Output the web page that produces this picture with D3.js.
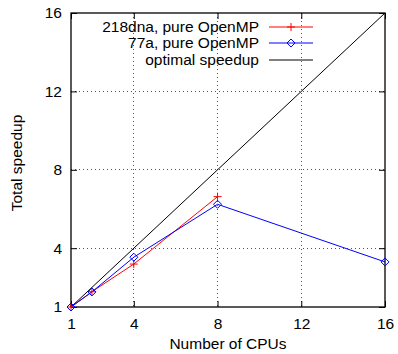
<!DOCTYPE html>
<html><head><meta charset="utf-8">
<script src="https://cdn.jsdelivr.net/npm/d3@7"></script>
<style>body{margin:0;background:#fff}svg{display:block;font-family:"Liberation Sans",Arial,sans-serif}</style>
</head><body><svg id="c" width="398" height="354"></svg>
<script>
const cpus218 = [1, 2, 4, 8];
const speedup218 = [1, 1.78, 3.19, 6.63];
const cpus77 = [1, 2, 4, 8, 16];
const speedup77 = [1, 1.77, 3.54, 6.24, 3.30];
const optimalCpus = [1, 16];
const optimalSpeedup = [1, 16];
const xTicks = [1, 4, 8, 12, 16];
const yTicks = [1, 4, 8, 12, 16];
const gridTicks = [4, 8, 12];
const seriesNames = ["218dna, pure OpenMP", "77a, pure OpenMP", "optimal speedup"];

const FS = 15.5;
const svg = d3.select("#c");
const L = 71, R = 385, T = 13, B = 307;
const x = d3.scaleLinear().domain([1, 16]).range([L, R]);
const y = d3.scaleLinear().domain([1, 16]).range([B, T]);

// grid
const g = svg.append("g");
gridTicks.forEach(v => {
  g.append("line").attr("x1", x(v)).attr("x2", x(v)).attr("y1", T).attr("y2", B)
    .attr("stroke", "#555").attr("stroke-width", 1).attr("stroke-dasharray", "1,3").attr("shape-rendering","crispEdges");
  g.append("line").attr("y1", y(v)).attr("y2", y(v)).attr("x1", L).attr("x2", R)
    .attr("stroke", "#555").attr("stroke-width", 1).attr("stroke-dasharray", "1,3").attr("shape-rendering","crispEdges");
});

// axes
const ax = (gen, tr) => svg.append("g").attr("transform", tr).call(gen)
  .call(s => s.select(".domain").remove())
  .call(s => s.selectAll("line").attr("stroke", "#000"))
  .call(s => s.selectAll("text").attr("font-size", FS).attr("fill", "#000").attr("font-family", "Liberation Sans, Arial, sans-serif"));
ax(d3.axisBottom(x).tickValues(xTicks).tickSize(-6).tickPadding(11).tickFormat(d3.format("d")), `translate(0,${B})`);
ax(d3.axisLeft(y).tickValues(yTicks).tickSize(-6).tickPadding(9).tickFormat(d3.format("d")), `translate(${L},0)`);
ax(d3.axisTop(x).tickValues(xTicks).tickSize(-6).tickFormat(""), `translate(0,${T})`);
ax(d3.axisRight(y).tickValues(yTicks).tickSize(-6).tickFormat(""), `translate(${R},0)`);

svg.append("rect").attr("x", L).attr("y", T).attr("width", R - L).attr("height", B - T)
  .attr("fill", "none").attr("stroke", "#000").attr("stroke-width", 1.3);

// lines
const line = d3.line().x(d => x(d[0])).y(d => y(d[1]));
const d218 = cpus218.map((c, i) => [c, speedup218[i]]);
const d77 = cpus77.map((c, i) => [c, speedup77[i]]);
const dOpt = optimalCpus.map((c, i) => [c, optimalSpeedup[i]]);
svg.append("path").datum(dOpt).attr("d", line).attr("fill", "none").attr("stroke", "#000").attr("stroke-width", 1);
svg.append("path").datum(d218).attr("d", line).attr("fill", "none").attr("stroke", "#f00").attr("stroke-width", 1);
svg.append("path").datum(d77).attr("d", line).attr("fill", "none").attr("stroke", "#00f").attr("stroke-width", 1);

const plus = (sel, cx, cy) => {
  sel.append("path").attr("d", `M${cx-4},${cy}H${cx+4}M${cx},${cy-4}V${cy+4}`).attr("stroke", "#f00").attr("stroke-width", 1).attr("fill","none");
};
const diamond = (sel, cx, cy) => {
  sel.append("path").attr("d", `M${cx},${cy-4}L${cx+4},${cy}L${cx},${cy+4}L${cx-4},${cy}Z`).attr("stroke", "#00f").attr("stroke-width", 1).attr("fill","none");
};
d218.forEach(d => plus(svg, x(d[0]), y(d[1])));
d77.forEach(d => diamond(svg, x(d[0]), y(d[1])));

// legend
const ly = [27, 43, 60];
const colors = ["#f00", "#00f", "#000"];
seriesNames.forEach((n, i) => {
  svg.append("text").attr("x", 259).attr("y", ly[i]).attr("dy", "0.35em").attr("text-anchor", "end")
    .attr("font-size", FS).text(n);
  svg.append("line").attr("x1", 269).attr("x2", 313).attr("y1", ly[i]).attr("y2", ly[i]).attr("stroke", colors[i]).attr("stroke-width", 1);
});
plus(svg, 291, ly[0]);
diamond(svg, 291, ly[1]);

// axis titles
svg.append("text").attr("x", (L + R) / 2).attr("y", 349).attr("text-anchor", "middle").attr("font-size", FS).text("Number of CPUs");
svg.append("text").attr("transform", `translate(22,163) rotate(-90)`).attr("text-anchor", "middle").attr("font-size", FS).text("Total speedup");
</script></body></html>
